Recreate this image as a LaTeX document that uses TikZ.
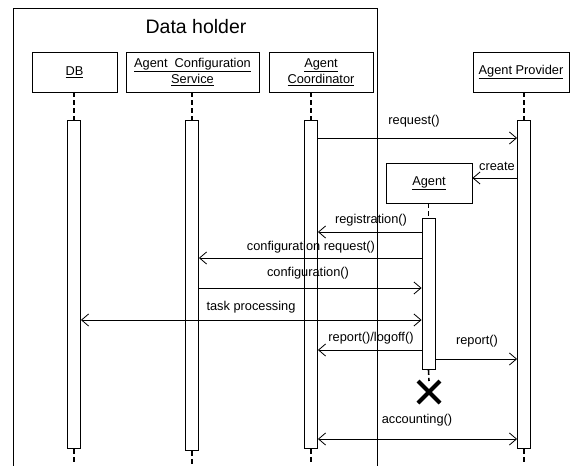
\documentclass[tikz,border=0pt]{standalone}
\usepackage{fontspec}
\setmainfont{Liberation Sans}
\usetikzlibrary{arrows.meta}
\begin{document}
\begin{tikzpicture}[x=1pt,y=-1pt,
  every node/.style={font=\fontsize{12.8}{16}\selectfont, inner sep=0pt},
  headbox/.style={draw, line width=0.9pt, minimum height=40pt, align=center},
  bar/.style={draw, line width=0.9pt, fill=white, minimum width=13pt},
  life/.style={line width=1.6pt, dash pattern=on 5pt off 3pt},
  msg/.style={line width=0.8pt, -{Straight Barb[length=7pt,width=12pt]}},
  dmsg/.style={line width=0.8pt, {Straight Barb[length=7pt,width=12pt]}-{Straight Barb[length=7pt,width=12pt]}},
  lbl/.style={anchor=center}
]
\useasboundingbox (0,0) rectangle (574,466);
\fill[white] (0,0) rectangle (574,466);
% frame
\draw[line width=0.9pt] (13,466) -- (13,8) -- (377,8) -- (377,466);
\node[font=\fontsize{19.5}{22}\selectfont] (title) at (196,27) {Data holder};
% header boxes
\node[headbox, minimum width=85pt] (db) at (74.5,72) {\underline{DB}};
\node[headbox, minimum width=133pt] (acs) at (192.5,72) {\underline{Agent\ \ Configuration}\\\underline{Service}};
\node[headbox, minimum width=104pt] (ac) at (321,72) {\underline{Agent}\\\underline{Coordinator}};
\node[headbox, minimum width=96pt] (ap) at (521,72) {\underline{Agent Provider}};
\node[headbox, minimum width=86pt] (ag) at (429,183) {\underline{Agent}};
% activation bars
\node[bar, minimum height=328pt, anchor=north] (dbbar) at (74,120) {};
\node[bar, minimum height=330pt, anchor=north] (acsbar) at (192,120) {};
\node[bar, minimum height=328pt, anchor=north] (acbar) at (311,120) {};
\node[bar, minimum height=328pt, anchor=north] (apbar) at (524,120) {};
\node[bar, minimum height=151pt, anchor=north] (agbar) at (428.5,218) {};
% lifelines
\draw[life] (db.south -| dbbar.north) -- (dbbar.north);
\draw[life] (dbbar.south) -- ++(0,15);
\draw[life] (acs.south -| acsbar.north) -- (acsbar.north);
\draw[life] (acsbar.south) -- ++(0,13);
\draw[life] (ac.south -| acbar.north) -- (acbar.north);
\draw[life] (acbar.south) -- ++(0,15);
\draw[life] (ap.south -| apbar.north) -- (apbar.north);
\draw[life] (apbar.south) -- ++(0,15);
\draw[life] (ag.south -| agbar.north) -- (agbar.north);
\coordinate (xc) at (429,392);
\draw[life] (agbar.south) -- (xc |- 0,381);
% destroy X
\draw[line width=4pt] (418,381) -- (440,403) (440,381) -- (418,403);
% messages
\draw[msg] (acbar.east |- 0,138) -- (apbar.west |- 0,138);
\node[lbl] (l1) at (414,121) {request()};
\draw[msg] (apbar.west |- 0,178) -- (ag.east |- 0,178);
\node[lbl] (l2) at (497,166) {create};
\draw[msg] (agbar.west |- 0,232) -- (acbar.east |- 0,232);
\node[lbl] (l3) at (371,220) {registration()};
\draw[msg] (agbar.west |- 0,258) -- (acsbar.east |- 0,258);
\node[lbl] (l4) at (311,247) {configuration request()};
\draw[msg] (acsbar.east |- 0,288) -- (agbar.west |- 0,288);
\node[lbl] (l5) at (308,273) {configuration()};
\draw[dmsg] (dbbar.east |- 0,320) -- (agbar.west |- 0,320);
\node[lbl] (l6) at (251,307) {task processing};
\draw[msg] (agbar.west |- 0,350) -- (acbar.east |- 0,350);
\node[lbl] (l7) at (371,338) {report()/logoff()};
\draw[msg] (agbar.east |- 0,359) -- (apbar.west |- 0,359);
\node[lbl] (l8) at (477,341) {report()};
\draw[dmsg] (acbar.east |- 0,439) -- (apbar.west |- 0,439);
\node[lbl] (l9) at (417,420) {accounting()};
\end{tikzpicture}
\end{document}
